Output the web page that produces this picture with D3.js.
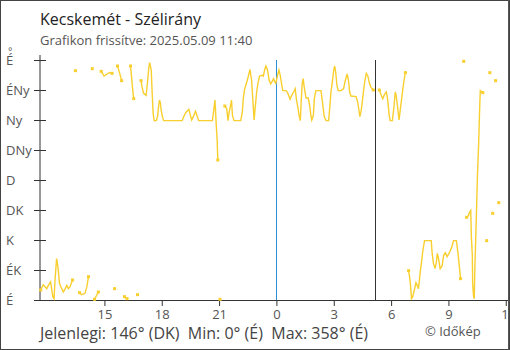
<!DOCTYPE html>
<html><head><meta charset="utf-8">
<script src="https://cdn.jsdelivr.net/npm/d3@7/dist/d3.min.js"></script>
<style>
body{margin:0;background:#fff}
svg{display:block;font-family:"Open Sans",sans-serif}
</style>
</head><body>
<svg id="chart" width="510" height="350"></svg>
<script>
// ---- data (minutes after 2025.05.08 11:40, wind direction in degrees; null = break) ----
const startTime = new Date(2025, 4, 8, 11, 40);
const endTime = new Date(2025, 4, 9, 12, 7);
const minutes = [
  0,8,19,24,31,38,42,45,48,50,54,59,64,71,77,82,87,92,100, null,
  109, null,
  122,129,139,145,150, null,
  162, null,
  169,181, null,
  190,199,208,215,224, null,
  232, null,
  241,248,254, null,
  263,271, null,
  282,287,290,292, null,
  304, null,
  315,318,323,331,336,339,342,347,350,353,356,363,367,370,373,376,378,382,386,444,
  449,455,465,470,474,479,486,491,496,539,542,545,547,549,552,554,556, null,
  563, null,
  578,584,588,591,596,599,602,607,628,633,636,640,647,652,657,659,662,666,670,673,
  678,682,687,696,699,704,707,712,717,722,728,731,735,738,745,748,752,756,760,770,
  775,780,783,788,794,799,803,808,811,815,818,821,824,827,833,840,845,848,851,856,
  859,864,880,885,890,896,904,908,911,915,920,923,926,930,934,943,951,955,962,966,
  970,974,990,995,999,1002,1006,1009,1014,1018,1022,1027,1032,1037,1044, null,
  1063,1069,1074,1079,1085,1088,1091,1094,1097,1104,1109,1113,1116,1121,1125,1130,1134,1137,1140,1144,1145, null,
  1155,1158,1161,1164,1168,1174,1178,1182,1186,1191,1195,1200,1205,1226,1229,1233,1238,1242,1245,1249,
  1254,1260,1265,1270,1276,1284,1291,1296,1305,1310,1314,1317,1318, null,
  1328, null,
  1337,1342,1346,1350,1352,1355,1356,1359,1361,1363,1365,1368,1371,1375,1378,1380,1388, null,
  1400, null,
  1410, null,
  1419, null,
  1428, null,
  1438
];
const directions = [
  15,23,17,22,27,5,2,30,50,62,50,25,19,12,17,22,17,20,30, null,
  344, null,
  11,8,10,20,35, null,
  347, null,
  1,12, null,
  343,336,339,341,340, null,
  17, null,
  351,340,329, null,
  5,2, null,
  351,325,310,302, null,
  8, null,
  329,320,310,307,330,347,356,345,310,280,269,269,276,290,300,295,285,275,269,269,
  275,281,286,277,270,275,283,276,269,269,280,292,300,282,255,240,210, null,
  1, null,
  291,287,269,280,292,300,277,269,269,282,302,316,327,336,346,339,330,300,270,287,
  312,325,336,337,336,347,351,345,330,324,329,332,327,325,340,345,337,325,314,314,
  311,305,301,307,312,317,300,287,277,269,300,325,332,320,303,303,290,277,270,277,
  302,314,314,295,275,269,269,292,311,325,345,351,342,322,314,314,317,327,339,330,
  312,306,305,297,285,275,284,295,316,330,340,336,325,319,315, null,
  315,307,302,308,312,305,292,277,269,269,290,312,307,287,270,290,305,317,327,340,341, null,
  44,35,22,2,5,17,26,22,17,40,55,75,89,89,70,55,47,56,70,62,
  47,51,67,71,65,72,80,89,89,70,52,37,32, null,
  358, null,
  124,126,131,134,95,67,25,5,2,50,80,132,185,237,287,314,311, null,
  89, null,
  341, null,
  130, null,
  329, null,
  146
];
const yTickValues = [0, 45, 90, 135, 180, 225, 270, 315, 360];
const yTickLabels = ["É", "ÉK", "K", "DK", "D", "DNy", "Ny", "ÉNy", "É"];
const xTickLabels = ["2025-05-08 15:00","2025-05-08 18:00","2025-05-08 21:00","2025-05-09 00:00",
                     "2025-05-09 03:00","2025-05-09 06:00","2025-05-09 09:00","2025-05-09 12:00"];
const midnightTime = "2025-05-09 00:00";
const sunriseTime = "2025-05-09 05:11";
const titleText = "Kecskemét - Szélirány";
const subtitleText = "Grafikon frissítve: 2025.05.09 11:40";
const footerText = "Jelenlegi: 146° (DK)  Min: 0° (É)  Max: 358° (É)";
const creditText = "© Időkép";

// ---- drawing ----
const parse = d3.timeParse("%Y-%m-%d %H:%M");
const svg = d3.select("#chart");
const x = d3.scaleTime().domain([startTime, endTime]).range([40.7, 508]);
const y = d3.scaleLinear().domain([0, 360]).range([300, 60]);
const lineColor = "#f8cf2e";

const data = minutes.map((m, i) => ({
  t: m == null ? null : new Date(startTime.getTime() + m * 60000),
  v: directions[i]
}));

svg.append("defs").append("clipPath").attr("id", "inner")
  .append("rect").attr("x", 0).attr("y", 0).attr("width", 508.5).attr("height", 349);

svg.append("rect").attr("x", 0.5).attr("y", 0.5).attr("width", 509).attr("height", 349)
  .attr("fill", "#fff").attr("stroke", "none");

svg.append("text").attr("x", 40).attr("y", 25).attr("font-size", 16).attr("fill", "#222").text(titleText);
svg.append("text").attr("x", 40).attr("y", 45).attr("font-size", 13).attr("fill", "#555").text(subtitleText);

// y axis
const yAxis = svg.append("g").attr("transform", "translate(40,0)")
  .call(d3.axisLeft(y).tickValues(yTickValues).tickFormat((d, i) => yTickLabels[i]).tickSize(6).tickSizeOuter(0));
yAxis.select(".domain").remove();
yAxis.append("line").attr("x1", 0).attr("x2", 0).attr("y1", 55).attr("y2", 300).attr("stroke", "#333");
yAxis.selectAll(".tick line").attr("x1", 6).attr("stroke", "#333");
yAxis.selectAll(".tick text").attr("x", -34).attr("text-anchor", "start")
  .attr("font-family", "Open Sans").attr("font-size", 13).attr("fill", "#555");
yAxis.append("text").attr("x", -27.5).attr("y", 54.5).attr("font-size", 11).attr("fill", "#555").text("°");

// x axis
const xAxis = svg.append("g").attr("transform", "translate(0,300)").attr("clip-path", "url(#inner)")
  .call(d3.axisBottom(x).tickValues(xTickLabels.map(parse)).tickFormat(d3.timeFormat("%-H")).tickSize(6).tickSizeOuter(0).tickPadding(4));
xAxis.select(".domain").attr("stroke", "#333");
xAxis.selectAll(".tick line").attr("y1", -6).attr("stroke", "#333");
xAxis.selectAll(".tick text").attr("font-family", "Open Sans").attr("font-size", 13).attr("fill", "#555");
xAxis.selectAll(".tick text").filter((d, i) => i === xTickLabels.length - 1).attr("dx", 2.5);

// vertical markers
svg.append("line").attr("x1", Math.round(x(parse(midnightTime))) + 0.5).attr("x2", Math.round(x(parse(midnightTime))) + 0.5)
  .attr("y1", 60).attr("y2", 300).attr("stroke", "#2b8fd8");
svg.append("line").attr("x1", Math.round(x(parse(sunriseTime))) + 0.5).attr("x2", Math.round(x(parse(sunriseTime))) + 0.5)
  .attr("y1", 60).attr("y2", 300).attr("stroke", "#333");

// data line
const line = d3.line().defined(d => d.v != null).x(d => x(d.t)).y(d => y(d.v));
svg.append("path").datum(data).attr("d", line).attr("fill", "none")
  .attr("stroke", lineColor).attr("stroke-width", 1.4).attr("stroke-linejoin", "miter");

// segment end markers
const ends = data.filter((d, i) => d.v != null &&
  (i === 0 || data[i - 1].v == null || i === data.length - 1 || data[i + 1].v == null));
svg.append("g").selectAll("rect").data(ends).join("rect")
  .attr("x", d => x(d.t) - 1.5).attr("y", d => y(d.v) - 1.5)
  .attr("width", 3).attr("height", 3).attr("fill", lineColor);

// footer
svg.append("text").attr("x", 40).attr("y", 339).attr("font-size", 16).attr("fill", "#444")
  .style("white-space", "pre").text(footerText);
svg.append("text").attr("x", 425).attr("y", 336).attr("font-size", 13).attr("fill", "#555").text(creditText);

// outer frame
svg.append("rect").attr("x", 0.5).attr("y", 0.5).attr("width", 509).attr("height", 349)
  .attr("fill", "none").attr("stroke", "#444");
svg.append("line").attr("x1", 508.5).attr("x2", 508.5).attr("y1", 0).attr("y2", 350)
  .attr("stroke", "#555").attr("stroke-width", 1);
</script>
</body></html>
